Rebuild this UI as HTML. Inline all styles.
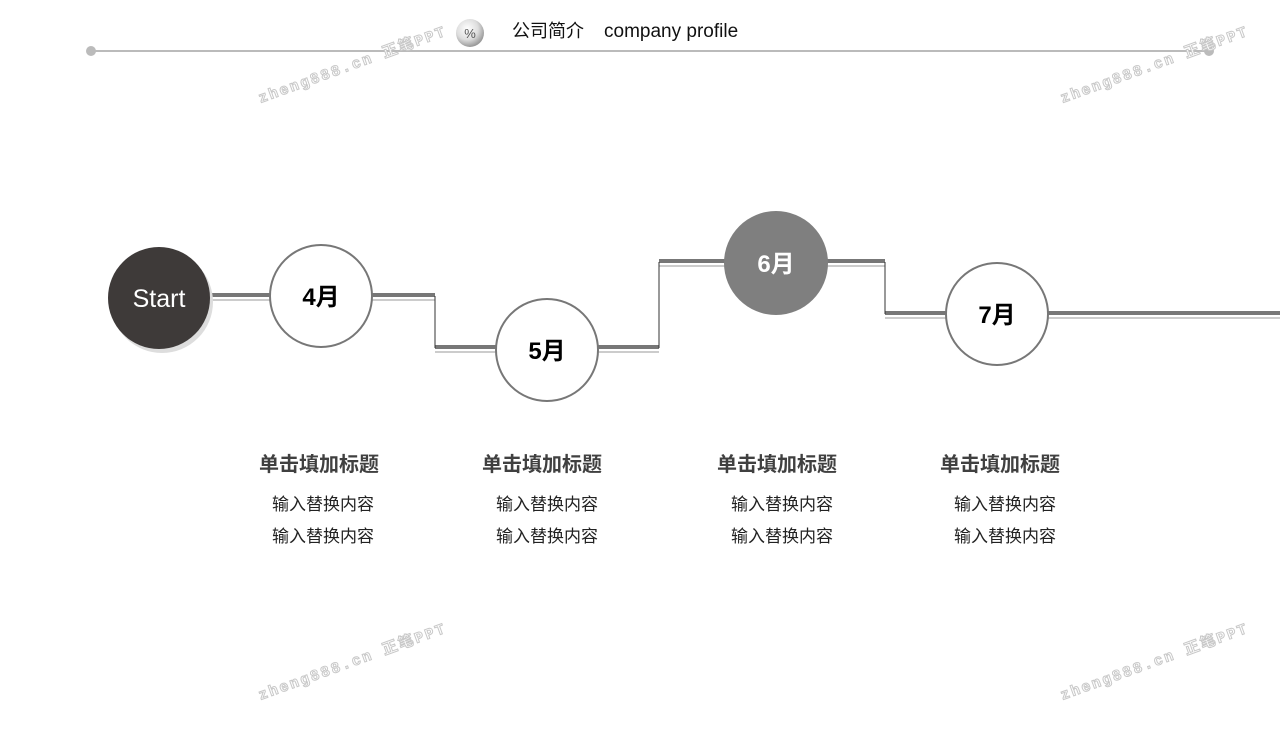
<!DOCTYPE html>
<html><head><meta charset="utf-8"><style>
body{margin:0;width:1280px;height:731px;background:#fff;overflow:hidden;position:relative;font-family:"Liberation Sans","Noto Sans CJK SC",sans-serif}
.t{position:absolute;text-align:center;width:200px;color:#333}
.h{font-size:20px;font-weight:bold;color:#404040}
.s{font-size:17px;color:#222}
.wm{position:absolute;white-space:nowrap;font-size:15px;font-weight:bold;color:#fff;-webkit-text-stroke:1px #c8c8c8;letter-spacing:2px;transform:rotate(-20deg);transform-origin:left top;font-family:"Liberation Mono","Noto Sans CJK SC",monospace}
</style></head><body>
<svg width="1280" height="731" style="position:absolute;left:0;top:0">
<defs><radialGradient id="g" cx="40%" cy="35%" r="65%"><stop offset="0" stop-color="#fff"/><stop offset="0.6" stop-color="#ddd"/><stop offset="1" stop-color="#999"/></radialGradient></defs>
<line x1="91" y1="51" x2="1209" y2="51" stroke="#bbb" stroke-width="2"/>
<circle cx="91" cy="51" r="5" fill="#bbb"/><circle cx="1209" cy="51" r="5" fill="#bbb"/>
<circle cx="470" cy="33" r="14" fill="url(#g)"/>
<text x="470" y="38" font-size="13" text-anchor="middle" fill="#555" font-family="Liberation Sans">%</text>
<g>
<path d="M210 295H435M435 347H659M659 261H885M885 313H1280" fill="none" stroke="#777" stroke-width="4"/>
<path d="M210 300H435M435 352H659M659 266H885M885 318H1280" fill="none" stroke="#ccc" stroke-width="2"/>
<path d="M435 296V348M659 348V262M885 262V314" stroke="#333" stroke-width="1"/>
</g>
<circle cx="162" cy="302" r="51" fill="#ddd"/>
<circle cx="159" cy="298" r="51" fill="#3e3a39"/>
<text x="159" y="307" font-size="25" text-anchor="middle" fill="#fff">Start</text>
<circle cx="321" cy="296" r="51" fill="#fff" stroke="#777" stroke-width="2"/>
<circle cx="547" cy="350" r="51" fill="#fff" stroke="#777" stroke-width="2"/>
<circle cx="776" cy="263" r="52" fill="#7f7f7f"/>
<circle cx="997" cy="314" r="51" fill="#fff" stroke="#777" stroke-width="2"/>
<g font-size="24" font-weight="bold" text-anchor="middle" font-family="Liberation Sans,Noto Sans CJK SC,sans-serif">
<text x="321" y="305" fill="#000">4月</text>
<text x="547" y="359" fill="#000">5月</text>
<text x="776" y="272" fill="#fff">6月</text>
<text x="997" y="323" fill="#000">7月</text>
</g>
</svg>
<div style="position:absolute;left:512px;top:17px;font-size:18px;color:#111;white-space:nowrap">公司简介&nbsp;&nbsp;&nbsp;&nbsp;<span style="font-size:19px">company profile</span></div>
<div class="t h" style="left:219px;top:448px">单击填加标题</div>
<div class="t s" style="left:223px;top:490px">输入替换内容</div>
<div class="t s" style="left:223px;top:522px">输入替换内容</div>
<div class="t h" style="left:442px;top:448px">单击填加标题</div>
<div class="t s" style="left:447px;top:490px">输入替换内容</div>
<div class="t s" style="left:447px;top:522px">输入替换内容</div>
<div class="t h" style="left:677px;top:448px">单击填加标题</div>
<div class="t s" style="left:682px;top:490px">输入替换内容</div>
<div class="t s" style="left:682px;top:522px">输入替换内容</div>
<div class="t h" style="left:900px;top:448px">单击填加标题</div>
<div class="t s" style="left:905px;top:490px">输入替换内容</div>
<div class="t s" style="left:905px;top:522px">输入替换内容</div>
<div class="wm" style="left:255px;top:88px">zheng888.cn 正笔PPT</div>
<div class="wm" style="left:1057px;top:88px">zheng888.cn 正笔PPT</div>
<div class="wm" style="left:255px;top:685px">zheng888.cn 正笔PPT</div>
<div class="wm" style="left:1057px;top:685px">zheng888.cn 正笔PPT</div>
</body></html>
